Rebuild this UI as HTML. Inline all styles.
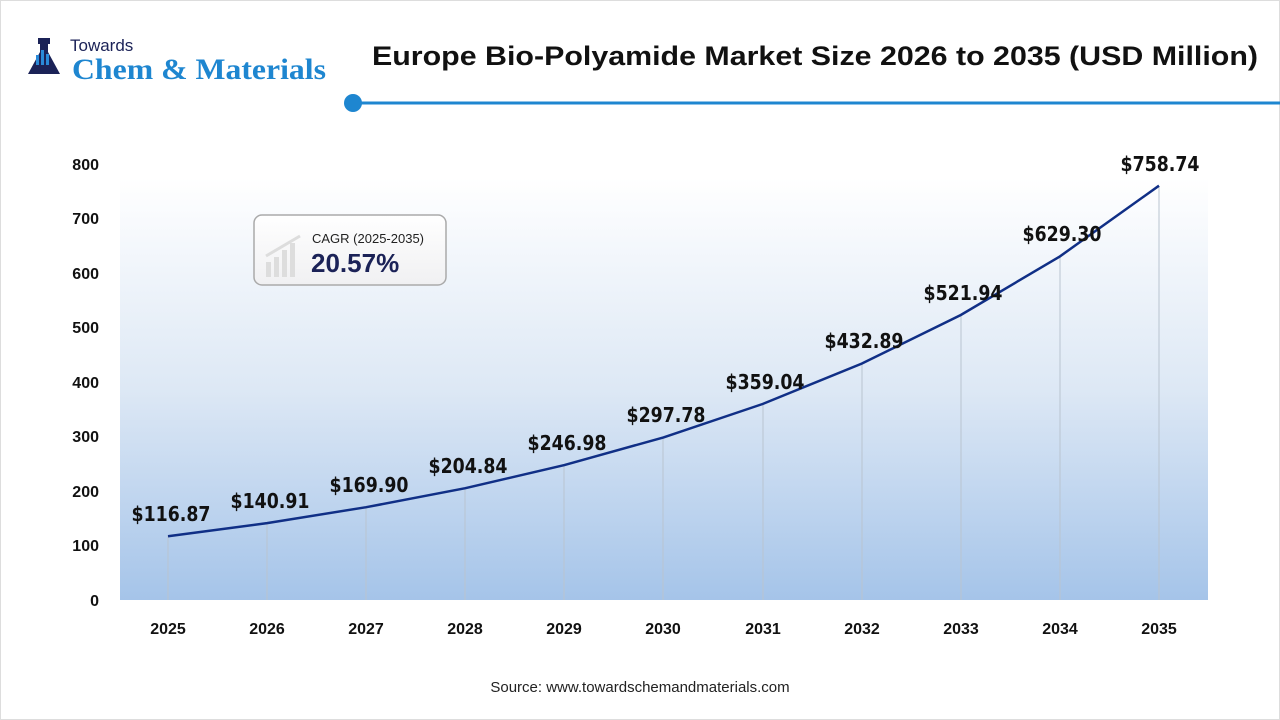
<!DOCTYPE html>
<html><head><meta charset="utf-8"><style>
body{margin:0;background:#fff;}
svg{display:block;font-family:"Liberation Sans",sans-serif;}
</style></head><body>
<svg width="1280" height="720" viewBox="0 0 1280 720" xmlns="http://www.w3.org/2000/svg">
<defs>
<linearGradient id="bg" x1="0" y1="0" x2="0" y2="1">
<stop offset="0" stop-color="#ffffff"/>
<stop offset="0.5" stop-color="#dde8f5"/>
<stop offset="1" stop-color="#a5c4e9"/>
</linearGradient>
<linearGradient id="box" x1="0" y1="0" x2="0" y2="1">
<stop offset="0" stop-color="#ffffff"/><stop offset="1" stop-color="#f0f0f2"/>
</linearGradient>
</defs>
<rect x="0" y="0" width="1280" height="720" fill="#fff"/>
<rect x="0.5" y="0.5" width="1279" height="719" fill="none" stroke="#ddd"/>
<g fill="#1b2257">
<path d="M38 38 h12 v6 h-2 v8 l12 22 h-32 l12 -22 v-8 h-2z"/>
</g>
<rect x="36" y="55" width="3" height="10" fill="#2a8ad8"/><rect x="41" y="50" width="3" height="15" fill="#2a8ad8"/><rect x="46" y="54" width="3" height="11" fill="#2a8ad8"/>
<text x="70" y="51" font-size="17" fill="#1b2257">Towards</text>
<text x="72" y="79" font-size="30" font-weight="bold" fill="#1e86d0" font-family="Liberation Serif,serif" textLength="254" lengthAdjust="spacingAndGlyphs">Chem &amp; Materials</text>
<text x="372" y="65" font-size="27" font-weight="bold" fill="#111" textLength="886" lengthAdjust="spacingAndGlyphs">Europe Bio-Polyamide Market Size 2026 to 2035 (USD Million)</text>
<line x1="353" y1="103" x2="1280" y2="103" stroke="#1e86d0" stroke-width="3"/>
<circle cx="353" cy="103" r="9" fill="#1e86d0"/>
<rect x="120" y="178" width="1088" height="422" fill="url(#bg)"/>
<g stroke="#b9c4d0" stroke-width="1">
<line x1="168" y1="536" x2="168" y2="600"/><line x1="267" y1="523" x2="267" y2="600"/><line x1="366" y1="507" x2="366" y2="600"/><line x1="465" y1="488" x2="465" y2="600"/><line x1="564" y1="465" x2="564" y2="600"/><line x1="663" y1="437" x2="663" y2="600"/><line x1="763" y1="404" x2="763" y2="600"/><line x1="862" y1="364" x2="862" y2="600"/><line x1="961" y1="315" x2="961" y2="600"/><line x1="1060" y1="256" x2="1060" y2="600"/><line x1="1159" y1="186" x2="1159" y2="600"/>
</g>
<polyline fill="none" stroke="#102f86" stroke-width="2.5" points="168,536.2 267.1,523.1 366.2,507.2 465.3,488.2 564.4,465.1 663.5,437.4 762.6,404 861.7,363.6 960.8,315 1059.9,256.4 1159,185.7"/>
<g font-size="20" font-weight="bold" fill="#111" text-anchor="middle" font-family="DejaVu Sans,sans-serif">
<text x="171" y="521" textLength="79" lengthAdjust="spacingAndGlyphs">$116.87</text><text x="270" y="508" textLength="79" lengthAdjust="spacingAndGlyphs">$140.91</text><text x="369" y="492" textLength="79" lengthAdjust="spacingAndGlyphs">$169.90</text><text x="468" y="473" textLength="79" lengthAdjust="spacingAndGlyphs">$204.84</text><text x="567" y="450" textLength="79" lengthAdjust="spacingAndGlyphs">$246.98</text><text x="666" y="422" textLength="79" lengthAdjust="spacingAndGlyphs">$297.78</text><text x="765" y="389" textLength="79" lengthAdjust="spacingAndGlyphs">$359.04</text><text x="864" y="348" textLength="79" lengthAdjust="spacingAndGlyphs">$432.89</text><text x="963" y="300" textLength="79" lengthAdjust="spacingAndGlyphs">$521.94</text><text x="1062" y="241" textLength="79" lengthAdjust="spacingAndGlyphs">$629.30</text><text x="1160" y="171" textLength="79" lengthAdjust="spacingAndGlyphs">$758.74</text>
</g>
<g font-size="16" font-weight="bold" fill="#111" text-anchor="end">
<text x="99" y="606">0</text><text x="99" y="551">100</text><text x="99" y="497">200</text><text x="99" y="442">300</text><text x="99" y="388">400</text><text x="99" y="333">500</text><text x="99" y="279">600</text><text x="99" y="224">700</text><text x="99" y="170">800</text>
</g>
<g font-size="16" font-weight="bold" fill="#111" text-anchor="middle">
<text x="168" y="634">2025</text><text x="267" y="634">2026</text><text x="366" y="634">2027</text><text x="465" y="634">2028</text><text x="564" y="634">2029</text><text x="663" y="634">2030</text><text x="763" y="634">2031</text><text x="862" y="634">2032</text><text x="961" y="634">2033</text><text x="1060" y="634">2034</text><text x="1159" y="634">2035</text>
</g>
<rect x="254" y="215" width="192" height="70" rx="8" fill="url(#box)" stroke="#aaa" stroke-width="1.5"/>
<g fill="#ddd"><rect x="266" y="262" width="5" height="15"/><rect x="274" y="257" width="5" height="20"/><rect x="282" y="250" width="5" height="27"/><rect x="290" y="243" width="5" height="34"/></g>
<path d="M266 256 L300 236" stroke="#ddd" stroke-width="3"/>
<text x="312" y="243" font-size="13" fill="#222">CAGR (2025-2035)</text>
<text x="311" y="272" font-size="26" font-weight="bold" fill="#1b2257">20.57%</text>
<text x="640" y="692" font-size="15" fill="#222" text-anchor="middle">Source: www.towardschemandmaterials.com</text>
</svg>
</body></html>
